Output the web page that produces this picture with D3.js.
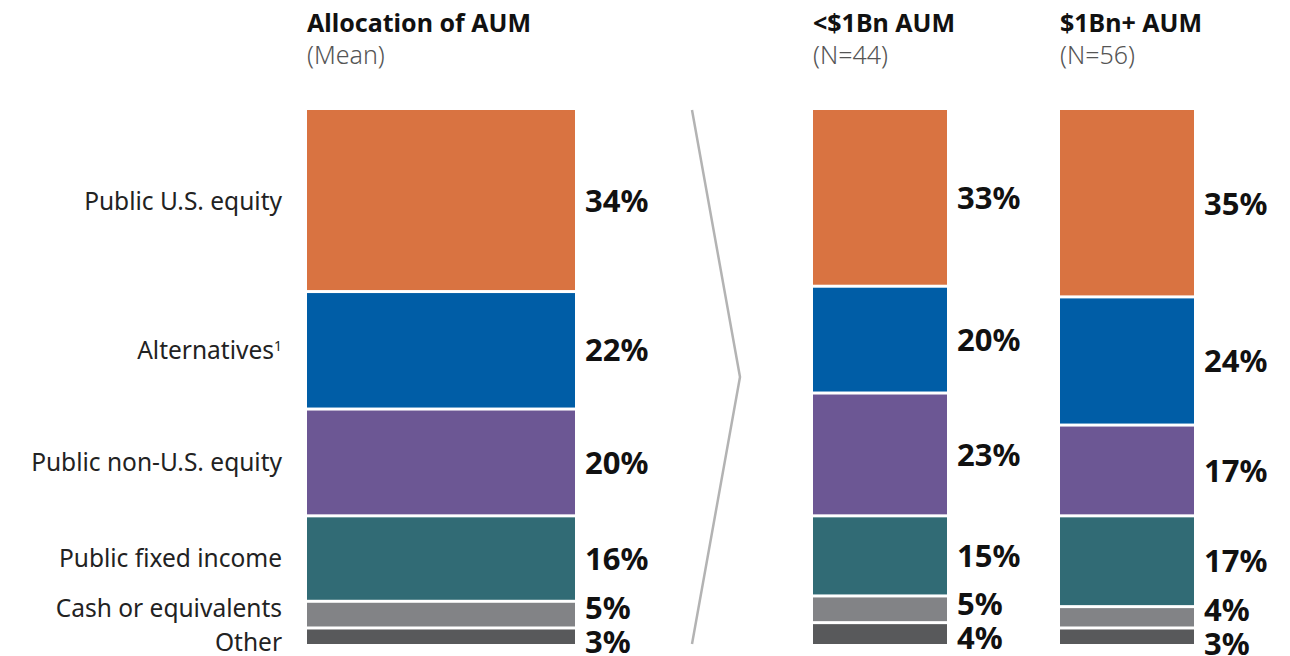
<!DOCTYPE html>
<html>
<head>
<meta charset="utf-8">
<script src="https://cdn.jsdelivr.net/npm/d3@7"></script>
<style>
  body { margin: 0; background: #fff; }
  svg { display: block; font-family: "Noto Sans", sans-serif; }
  .head { font-weight: 700; font-size: 25px; fill: #111; }
  .sub { font-weight: 300; font-size: 25px; fill: #555; }
  .cat { font-size: 24.5px; fill: #222; }
  .pct { font-weight: 700; font-size: 31px; fill: #111; }
</style>
</head>
<body>
<div id="chart"></div>
<script>
const categories = ["Public U.S. equity", "Alternatives", "Public non-U.S. equity",
  "Public fixed income", "Cash or equivalents", "Other"]
const meanValues = [34, 22, 20, 16, 5, 3]
const smallValues = [33, 20, 23, 15, 5, 4]   // <$1Bn AUM
const largeValues = [35, 24, 17, 17, 4, 3]   // $1Bn+ AUM
const headers = ["Allocation of AUM", "<$1Bn AUM", "$1Bn+ AUM"]
const subHeaders = ["(Mean)", "(N=44)", "(N=56)"]
const colors = ["#d97341", "#005da6", "#6c5794", "#316b75", "#828386", "#58595b"]

const width = 1290, height = 656
const barTop = 110, barBottom = 644
const gap = 3
const bars = [
  { values: meanValues, x: 307, w: 268 },
  { values: smallValues, x: 813, w: 134 },
  { values: largeValues, x: 1060, w: 134 }
]

const svg = d3.select("#chart").append("svg")
  .attr("width", width)
  .attr("height", height)

let y = d3.scaleLinear().domain([0, 100]).range([barTop, barBottom])

// spread labels that would overlap
function spread(centers, minGap) {
  let out = centers.slice()
  for (let i = out.length - 1; i > 0; i--) {
    let d = out[i] - out[i - 1]
    if (d < minGap) {
      let mid = (out[i] + out[i - 1]) / 2
      out[i - 1] = mid - minGap / 2
      out[i] = mid + minGap / 2
    }
  }
  return out
}

bars.forEach((bar, bi) => {
  let cum = d3.cumsum(bar.values)
  let segs = bar.values.map((v, i) => ({ v, y0: cum[i] - v, y1: cum[i], i }))
  let g = svg.append("g")

  g.selectAll("rect").data(segs).join("rect")
    .attr("x", bar.x)
    .attr("width", bar.w)
    .attr("y", d => y(d.y0) + (d.i > 0 ? gap / 2 : 0))
    .attr("height", d => y(d.y1) - y(d.y0) - (d.i > 0 ? gap / 2 : 0) - (d.i < segs.length - 1 ? gap / 2 : 0))
    .attr("fill", d => colors[d.i])

  let centers = spread(segs.map(d => (y(d.y0) + y(d.y1)) / 2), 34)

  g.selectAll("text.pct").data(segs).join("text")
    .attr("class", "pct")
    .attr("x", bar.x + bar.w + 10)
    .attr("y", (d, i) => centers[i])
    .attr("dy", "0.36em")
    .text(d => d.v + "%")

  if (bi == 0) {
    let labels = g.selectAll("text.cat").data(segs).join("text")
      .attr("class", "cat")
      .attr("x", bar.x - 25)
      .attr("y", (d, i) => centers[i])
      .attr("dy", "0.36em")
      .attr("text-anchor", "end")
    labels.append("tspan").text(d => categories[d.i])
    labels.filter(d => d.i == 1).append("tspan")
      .attr("dy", "-0.55em")
      .attr("font-size", "14px")
      .text("1")
  }

  svg.append("text").attr("class", "head")
    .attr("x", bar.x).attr("y", 32)
    .text(headers[bi])
  svg.append("text").attr("class", "sub")
    .attr("x", bar.x).attr("y", 64)
    .text(subHeaders[bi])
})

// chevron between the mean bar and the split bars
let cx = 692, tip = 740
svg.append("path")
  .attr("d", d3.line()([[cx, y(0)], [tip, y(50)], [cx, y(100)]]))
  .attr("fill", "none")
  .attr("stroke", "#b3b3b3")
  .attr("stroke-width", 2.5)
</script>
</body>
</html>
